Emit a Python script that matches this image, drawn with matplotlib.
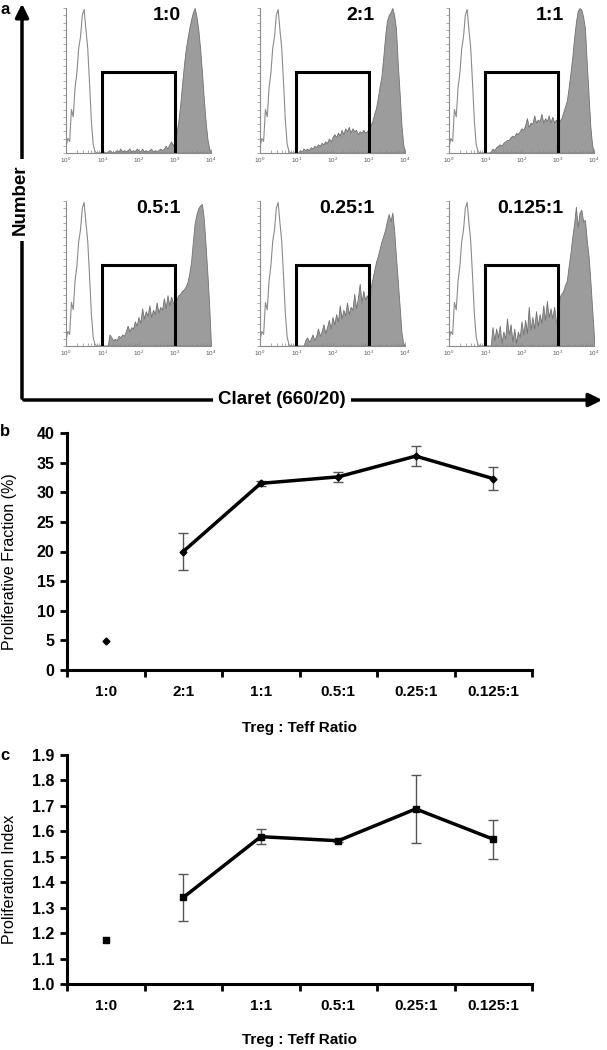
import matplotlib
matplotlib.use("Agg")
import matplotlib.pyplot as plt
import numpy as np

plt.rcParams["font.family"] = ["Liberation Sans", "DejaVu Sans"]

# ---- panel a: Claret histograms (log10 channel, 0.05 decade bins) ----
channel = np.linspace(0, 4, 81)

control = [0.04, 0.10, 0.08, 0.30, 0.25, 0.45, 0.55, 0.72, 0.80, 0.95, 0.99, 0.85, 0.72,
           0.48, 0.22, 0.06, 0.01] + [0] * 64

# filled histograms from 10^1 to 10^4 (61 bins), zero below 10^1
h_1_0 = [0, 0.01, 0, 0.01, 0.02, 0.01, 0, 0.01, 0.02, 0.01, 0.03, 0.01, 0.02, 0.01, 0.02,
         0.03, 0.01, 0.02, 0.01, 0.03, 0.02, 0.01, 0.03, 0.01, 0.02, 0.01, 0.02, 0.03, 0.01,
         0.02, 0.01, 0.02, 0.03, 0.02, 0.03, 0.05, 0.03, 0.06, 0.08, 0.05, 0.09, 0.14, 0.22,
         0.33, 0.47, 0.60, 0.71, 0.79, 0.86, 0.92, 0.97, 1.00, 0.94, 0.85, 0.72, 0.56, 0.38,
         0.22, 0.10, 0.03, 0]
h_2_1 = [0, 0, 0.02, 0.01, 0.03, 0.02, 0.03, 0.02, 0.04, 0.03, 0.05, 0.04, 0.06, 0.05, 0.07,
         0.06, 0.08, 0.07, 0.10, 0.08, 0.11, 0.13, 0.11, 0.14, 0.12, 0.16, 0.13, 0.17, 0.15,
         0.18, 0.14, 0.17, 0.15, 0.16, 0.13, 0.15, 0.14, 0.16, 0.14, 0.15, 0.16, 0.19, 0.22,
         0.27, 0.31, 0.38, 0.46, 0.53, 0.66, 0.80, 0.91, 0.95, 0.97, 1.00, 0.95, 0.86, 0.62,
         0.42, 0.20, 0.06, 0]
h_1_1 = [0, 0, 0, 0.01, 0.03, 0.02, 0.04, 0.05, 0.06, 0.05, 0.07, 0.08, 0.09, 0.09, 0.11,
         0.12, 0.11, 0.14, 0.13, 0.15, 0.17, 0.16, 0.19, 0.24, 0.18, 0.21, 0.20, 0.26, 0.21,
         0.23, 0.22, 0.27, 0.21, 0.24, 0.22, 0.26, 0.21, 0.25, 0.21, 0.23, 0.21, 0.22, 0.24,
         0.28, 0.32, 0.36, 0.45, 0.55, 0.66, 0.79, 0.90, 0.98, 1.00, 0.99, 0.94, 0.86, 0.62,
         0.40, 0.18, 0.05, 0]
h_05_1 = [0, 0, 0, 0, 0.08, 0.06, 0.04, 0.05, 0.04, 0.07, 0.06, 0.08, 0.07, 0.10, 0.14,
          0.10, 0.13, 0.12, 0.17, 0.14, 0.20, 0.16, 0.26, 0.19, 0.24, 0.21, 0.28, 0.20, 0.25,
          0.22, 0.30, 0.23, 0.27, 0.25, 0.33, 0.26, 0.35, 0.28, 0.34, 0.30, 0.29, 0.32, 0.35,
          0.36, 0.38, 0.39, 0.41, 0.44, 0.50, 0.58, 0.72, 0.85, 0.91, 0.95, 0.97, 0.98, 0.88,
          0.70, 0.50, 0.28, 0]
h_025_1 = [0, 0, 0, 0, 0, 0.04, 0.06, 0.03, 0.05, 0.08, 0.04, 0.07, 0.12, 0.07, 0.10,
           0.15, 0.09, 0.13, 0.18, 0.12, 0.20, 0.15, 0.22, 0.17, 0.28, 0.19, 0.25, 0.21, 0.30,
           0.22, 0.27, 0.25, 0.36, 0.26, 0.33, 0.43, 0.30, 0.38, 0.32, 0.35, 0.31, 0.40, 0.46,
           0.52, 0.58, 0.62, 0.67, 0.72, 0.76, 0.80, 0.86, 0.91, 0.86, 0.92, 0.80, 0.62, 0.45,
           0.28, 0.10, 0.02, 0]
h_0125_1 = [0, 0, 0, 0, 0.13, 0.04, 0.12, 0.06, 0.14, 0.02, 0.10, 0.05, 0.19, 0.08, 0.15,
            0.03, 0.12, 0.02, 0.10, 0.06, 0.17, 0.08, 0.18, 0.09, 0.27, 0.11, 0.20, 0.12, 0.24,
            0.14, 0.22, 0.16, 0.28, 0.18, 0.31, 0.20, 0.26, 0.19, 0.27, 0.17, 0.15, 0.34, 0.36,
            0.38, 0.42, 0.45, 0.55, 0.64, 0.75, 0.84, 0.96, 0.82, 0.92, 0.94, 0.86, 0.87, 0.73,
            0.62, 0.45, 0.25, 0.06]

hist_titles = ["1:0", "2:1", "1:1", "0.5:1", "0.25:1", "0.125:1"]
hist_filled = [h_1_0, h_2_1, h_1_1, h_05_1, h_025_1, h_0125_1]
gate_lo, gate_hi, gate_height = 10, 1000, 0.56

# ---- panels b and c ----
ratios = ["1:0", "2:1", "1:1", "0.5:1", "0.25:1", "0.125:1"]
prolif_fraction = [4.9, 20.0, 31.5, 32.6, 36.1, 32.3]
prolif_fraction_err = [0.0, 3.2, 0.4, 0.9, 1.7, 1.9]
prolif_index = [1.173, 1.34, 1.579, 1.563, 1.688, 1.569]
prolif_index_err = [0.0, 0.094, 0.03, 0.005, 0.135, 0.076]

W, H = 607, 1050
fig = plt.figure(figsize=(W / 100, H / 100), dpi=100)


def fx(px):
    return px / W


def fy(py):
    return 1 - py / H


hist_lefts = [66, 260, 449]
hist_rows = [(8, 153), (201, 346)]
x_lin = 10 ** channel
for i, (title, filled) in enumerate(zip(hist_titles, hist_filled)):
    top, bot = hist_rows[i // 3]
    left = hist_lefts[i % 3]
    ax = fig.add_axes([fx(left), fy(bot), fx(145), (bot - top) / H])
    yfill = np.array([0] * 20 + filled)
    ax.fill_between(x_lin, yfill, color="#9c9c9c", edgecolor="#707070", linewidth=0.6)
    ax.plot(x_lin, control, color="#8a8a8a", lw=0.8)
    ax.plot([gate_lo, gate_lo, gate_hi, gate_hi], [0, gate_height, gate_height, 0],
            color="black", lw=2.2, solid_joinstyle="miter")
    ax.set_xscale("log")
    ax.set_xlim(1, 1e4)
    ax.set_ylim(0, 1.0)
    for s in ["top", "right"]:
        ax.spines[s].set_visible(False)
    for s in ["left", "bottom"]:
        ax.spines[s].set_color("#8a8a8a")
        ax.spines[s].set_linewidth(0.8)
    ax.set_yticks(np.arange(0, 1.001, 0.05))
    ax.tick_params(axis="y", direction="out", length=2, width=0.5, color="#8a8a8a",
                   labelleft=False)
    ax.tick_params(axis="x", which="major", direction="in", length=3, width=0.6,
                   color="#8a8a8a", labelsize=4.5, labelcolor="#555555", pad=2)
    ax.tick_params(axis="x", which="minor", direction="in", length=2, width=0.5,
                   color="#8a8a8a")
    ax.text(0.79, 0.95, title, transform=ax.transAxes, ha="right", va="center",
            fontsize=14, fontweight="bold")

# axis arrows of panel a
fig.add_artist(matplotlib.patches.FancyArrowPatch(
    (fx(22), fy(401)), (fx(22), fy(1)), transform=fig.transFigure,
    arrowstyle="-|>,head_length=8,head_width=4", mutation_scale=1, lw=2.5, color="black"))
fig.add_artist(matplotlib.patches.FancyArrowPatch(
    (fx(21), fy(400)), (fx(605), fy(400)), transform=fig.transFigure,
    arrowstyle="-|>,head_length=8,head_width=4", mutation_scale=1, lw=2.5, color="black"))
fig.text(fx(20), fy(200), "Number", rotation=90, ha="center", va="center", fontsize=13.5,
         fontweight="bold", bbox=dict(facecolor="white", edgecolor="none", pad=4))
fig.text(fx(282), fy(400), "Claret (660/20)", ha="center", va="center", fontsize=13.5,
         fontweight="bold", bbox=dict(facecolor="white", edgecolor="none", pad=4))


def line_panel(top, bot, values, errs, marker, ms, ylim, step, ylabel, label_y):
    ax = fig.add_axes([fx(67), fy(bot), fx(465), (bot - top) / H])
    x = np.arange(len(ratios))
    ax.errorbar(x[1:], values[1:], yerr=errs[1:], fmt="none", ecolor="#555555",
                elinewidth=1, capsize=3.5, capthick=1)
    ax.plot(x[1:], values[1:], color="black", lw=2.5, marker=marker, ms=ms)
    ax.plot(x[:1], values[:1], color="black", lw=0, marker=marker, ms=ms)
    ax.set_xlim(-0.5, len(ratios) - 0.5)
    ax.set_ylim(*ylim)
    ax.set_yticks(np.arange(ylim[0], ylim[1] + step / 2, step))
    ax.set_xticks(np.arange(-0.5, len(ratios), 1))
    ax.set_xticklabels([])
    ax.set_xticks(x, minor=True)
    ax.set_xticklabels(ratios, minor=True, fontsize=11, fontweight="bold")
    for lab in ax.get_yticklabels():
        lab.set_fontweight("bold")
    ax.tick_params(axis="y", direction="out", length=5, width=2, labelsize=11.5, pad=4)
    ax.tick_params(axis="x", which="major", direction="out", length=5, width=2)
    ax.tick_params(axis="x", which="minor", length=0, pad=11)
    for s in ["top", "right"]:
        ax.spines[s].set_visible(False)
    for s in ["left", "bottom"]:
        ax.spines[s].set_linewidth(2.2)
    fig.text(fx(300), fy(label_y), "Treg : Teff Ratio", ha="center", va="center",
             fontsize=11, fontweight="bold")
    fig.text(fx(10), fy((top + bot) / 2 + 10), ylabel, rotation=90, ha="center",
             va="center", fontsize=11.5)
    return ax


line_panel(433, 670, prolif_fraction, prolif_fraction_err, "D", 3.5, (0, 40), 5,
           "Proliferative Fraction (%)", 728)
line_panel(755, 984, prolif_index, prolif_index_err, "s", 4.5, (1.0, 1.9), 0.1,
           "Proliferation Index", 1040)

fig.text(fx(5), fy(9), "a", ha="center", va="center", fontsize=12, fontweight="bold")
fig.text(fx(5), fy(431), "b", ha="center", va="center", fontsize=12, fontweight="bold")
fig.text(fx(5), fy(755), "c", ha="center", va="center", fontsize=12, fontweight="bold")

fig.savefig("out.png", dpi=100)
